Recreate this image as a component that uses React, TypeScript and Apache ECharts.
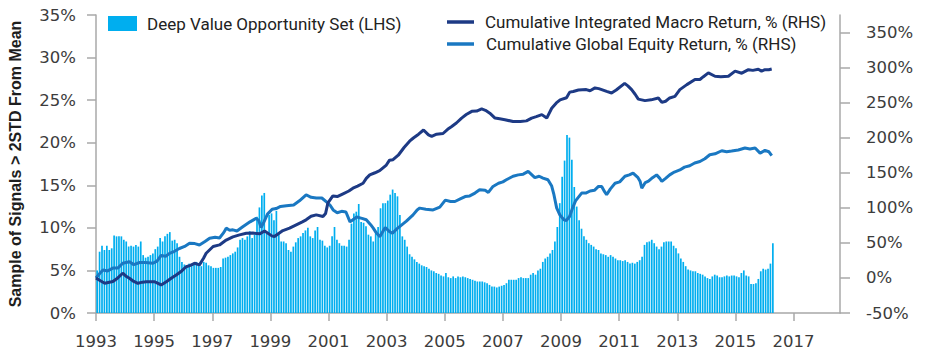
import React, { useEffect, useRef } from "react";
import * as echarts from "echarts";

// ---- Series names ----
const BAR_NAME = "Deep Value Opportunity Set (LHS)";
const MACRO_NAME = "Cumulative Integrated Macro Return, % (RHS)";
const EQUITY_NAME = "Cumulative Global Equity Return, % (RHS)";
const Y_LEFT_TITLE = "Sample of Signals > 2STD From Mean";

// ---- Monthly bars (%), Jan 1993 .. Apr 2016 ----
const FIRST_YEAR = 1993;
const opportunitySet: number[] = [
  // 1993
  5.0, 7.2, 7.9, 7.4, 7.9, 7.4, 7.6, 9.1, 9.0, 9.0, 9.0, 8.6,
  // 1994
  8.4, 7.8, 7.9, 7.8, 8.0, 7.8, 8.4, 6.8, 6.5, 6.6, 6.8, 7.0,
  // 1995
  7.5, 7.8, 8.8, 8.4, 9.0, 9.3, 9.5, 8.5, 8.6, 8.2, 6.6, 6.0,
  // 1996
  5.7, 5.5, 5.8, 5.5, 5.9, 6.0, 5.8, 5.5, 6.0, 5.9, 5.6, 5.5,
  // 1997
  5.3, 5.3, 5.3, 5.4, 6.4, 6.5, 6.6, 6.8, 7.0, 7.2, 7.7, 8.6,
  // 1998
  8.8, 8.6, 9.0, 9.6, 8.8, 9.2, 11.3, 12.4, 13.8, 14.1, 9.3, 11.5,
  // 1999
  11.7, 10.9, 12.0, 9.5, 8.4, 8.4, 8.2, 7.4, 7.2, 7.8, 8.3, 8.8,
  // 2000
  9.0, 9.4, 9.7, 10.0, 9.0, 8.8, 9.7, 10.1, 8.6, 8.5, 7.9, 7.7,
  // 2001
  7.9, 9.0, 10.1, 8.6, 8.2, 7.9, 7.9, 7.8, 8.6, 10.5, 11.7, 11.9,
  // 2002
  12.8, 10.7, 10.6, 10.2, 9.2, 9.0, 8.4, 9.3, 10.1, 12.3, 12.9, 12.9,
  // 2003
  13.2, 13.9, 14.5, 14.1, 13.7, 11.5, 9.0, 8.6, 7.8, 6.9, 6.6, 6.3,
  // 2004
  6.0, 5.8, 5.6, 5.5, 5.4, 5.2, 5.0, 4.9, 4.7, 4.6, 4.4, 4.3,
  // 2005
  4.7, 4.2, 4.1, 4.3, 4.1, 4.3, 4.2, 4.3, 4.2, 4.1, 4.0, 3.9,
  // 2006
  3.8, 3.7, 3.7, 3.7, 3.6, 3.5, 3.3, 3.1, 3.1, 3.0, 3.1, 3.2,
  // 2007
  3.3, 3.5, 3.9, 3.9, 3.9, 3.9, 4.1, 4.2, 4.1, 4.1, 4.1, 4.5,
  // 2008
  4.7, 4.5, 5.0, 5.2, 6.0, 6.4, 6.6, 7.0, 7.4, 8.4, 10.1, 12.9,
  // 2009
  16.0, 17.9, 20.9, 20.6, 18.0, 14.8, 12.5, 10.9, 9.9, 9.0, 8.6, 8.2,
  // 2010
  8.0, 7.8, 7.5, 7.4, 7.0, 6.9, 6.8, 6.6, 6.8, 6.6, 6.4, 6.2,
  // 2011
  6.2, 6.1, 6.2, 6.0, 5.8, 5.9, 5.8, 6.0, 6.2, 6.6, 8.0, 8.3,
  // 2012
  8.4, 8.6, 8.2, 7.8, 7.5, 7.8, 8.3, 8.4, 8.4, 8.4, 7.9, 7.6,
  // 2013
  7.0, 6.4, 6.0, 5.5, 5.1, 5.0, 4.9, 4.9, 4.7, 4.6, 4.5, 4.3,
  // 2014
  4.1, 4.0, 4.3, 4.5, 4.4, 4.2, 4.2, 4.3, 4.4, 4.3, 4.4, 4.4,
  // 2015
  4.3, 4.2, 4.7, 5.0, 4.4, 4.3, 3.4, 3.4, 3.5, 4.0, 4.9, 5.2,
  // 2016
  5.1, 5.2, 5.8, 8.2,
];

// ---- Cumulative Integrated Macro Return (%), [year, value] ----
const macroReturn: [number, number][] = [
  [1993.0, 0], [1993.15, -4], [1993.3, -7.6], [1993.58, -5], [1993.75, 0], [1993.92, 6.7],
  [1994.05, 2], [1994.15, -0.4], [1994.3, -5], [1994.44, -7.6], [1994.6, -6], [1994.73, -5.3],
  [1995.0, -5.3], [1995.1, -7], [1995.24, -10], [1995.42, -5.3], [1995.6, 0], [1995.76, 4.3], [1995.95, 10],
  [1996.1, 16], [1996.25, 18], [1996.39, 20.9], [1996.56, 18.6], [1996.7, 28], [1996.79, 35.2],
  [1997.03, 44.8], [1997.25, 47.1], [1997.48, 54], [1997.71, 58.6], [1997.94, 61.4],
  [1998.17, 63.8], [1998.4, 64], [1998.63, 62.9], [1998.8, 67],
  [1999.05, 60], [1999.14, 59], [1999.43, 67.6], [1999.66, 71], [1999.89, 75.7],
  [2000.1, 80], [2000.23, 82.9], [2000.4, 88], [2000.58, 90], [2000.81, 87.6], [2000.9, 92], [2000.98, 107],
  [2001.15, 117], [2001.3, 116], [2001.5, 120], [2001.7, 124], [2001.84, 128],
  [2002.0, 131], [2002.19, 135], [2002.3, 142], [2002.42, 147], [2002.6, 150], [2002.76, 153], [2002.99, 161],
  [2003.1, 168], [2003.22, 168.6], [2003.4, 175], [2003.6, 186], [2003.79, 195], [2003.92, 199.6],
  [2004.1, 205], [2004.27, 211], [2004.44, 204], [2004.55, 202], [2004.72, 205], [2004.94, 206],
  [2005.1, 212], [2005.24, 216], [2005.4, 221], [2005.58, 228], [2005.74, 233], [2005.93, 237.6],
  [2006.1, 238], [2006.27, 241], [2006.4, 239], [2006.55, 235], [2006.73, 228], [2006.89, 227],
  [2007.07, 225.7], [2007.35, 223], [2007.6, 223], [2007.81, 224], [2007.99, 228],
  [2008.15, 230], [2008.34, 232.9], [2008.51, 228], [2008.68, 242], [2008.84, 249.6], [2008.97, 254],
  [2009.19, 257], [2009.3, 265], [2009.42, 266], [2009.6, 268], [2009.87, 268.6],
  [2010.0, 267], [2010.17, 271], [2010.3, 270], [2010.4, 268.6], [2010.57, 266], [2010.74, 263.8], [2010.9, 268],
  [2011.19, 277.5], [2011.3, 274], [2011.43, 268.6], [2011.55, 262], [2011.66, 255], [2011.89, 252.9],
  [2012.1, 254], [2012.35, 256.7], [2012.47, 250.4], [2012.6, 252], [2012.74, 256.7], [2012.92, 259],
  [2013.09, 268.6], [2013.33, 275.7], [2013.61, 282.9], [2013.78, 283], [2013.9, 287],
  [2014.07, 292.4], [2014.3, 287.6], [2014.5, 287], [2014.76, 287.6], [2014.99, 295],
  [2015.22, 292], [2015.45, 297], [2015.6, 296], [2015.79, 297.6], [2015.9, 295],
  [2016.02, 297], [2016.15, 297], [2016.25, 298],
];

// ---- Cumulative Global Equity Return (%), [year, value] ----
const equityReturn: [number, number][] = [
  [1993.0, 0], [1993.12, 6], [1993.24, 11.4], [1993.4, 10], [1993.58, 14], [1993.75, 14], [1993.92, 21],
  [1994.15, 23], [1994.3, 19], [1994.5, 22], [1994.7, 22], [1994.96, 21],
  [1995.1, 24], [1995.24, 32], [1995.4, 31], [1995.53, 35], [1995.7, 38], [1995.87, 42],
  [1996.05, 45], [1996.22, 49.6], [1996.4, 49], [1996.56, 47], [1996.75, 52], [1996.91, 56.7],
  [1997.1, 58], [1997.25, 57], [1997.4, 65], [1997.48, 71], [1997.6, 68], [1997.71, 68.6], [1997.85, 67],
  [1998.05, 73], [1998.3, 80], [1998.51, 85], [1998.6, 82], [1998.68, 72], [1998.78, 80], [1998.9, 91],
  [1999.06, 98], [1999.2, 99], [1999.35, 102], [1999.55, 103], [1999.8, 104],
  [2000.0, 110], [2000.23, 118.6], [2000.4, 115], [2000.58, 114], [2000.77, 114], [2000.94, 108],
  [2001.05, 104], [2001.16, 97], [2001.3, 93], [2001.45, 95], [2001.6, 94], [2001.74, 80], [2001.84, 83], [2001.97, 87],
  [2002.15, 85], [2002.3, 83], [2002.45, 76], [2002.54, 71], [2002.65, 64], [2002.77, 59], [2002.95, 72],
  [2003.1, 66], [2003.2, 63.8], [2003.35, 70], [2003.5, 75], [2003.68, 81], [2003.91, 90],
  [2004.05, 97], [2004.14, 99.6], [2004.35, 98], [2004.6, 97], [2004.83, 101],
  [2005.02, 111], [2005.2, 109], [2005.35, 109], [2005.55, 113], [2005.7, 116], [2005.86, 117],
  [2006.04, 121], [2006.2, 125.7], [2006.39, 125], [2006.5, 122], [2006.66, 130.5], [2006.85, 135],
  [2007.0, 137], [2007.12, 140], [2007.35, 145], [2007.53, 147], [2007.7, 148], [2007.87, 151.9],
  [2008.1, 143], [2008.25, 145], [2008.38, 142.4], [2008.55, 140], [2008.68, 131], [2008.75, 120], [2008.85, 100], [2008.96, 90],
  [2009.1, 83], [2009.19, 82], [2009.3, 88], [2009.4, 100], [2009.5, 110], [2009.71, 121], [2009.85, 121],
  [2010.0, 124], [2010.15, 125], [2010.29, 130.5], [2010.4, 130.5], [2010.5, 123], [2010.57, 118.6], [2010.7, 127], [2010.86, 135],
  [2011.02, 137], [2011.2, 145], [2011.35, 147], [2011.48, 149.6], [2011.65, 143], [2011.72, 138], [2011.78, 128], [2011.9, 136],
  [2012.01, 138], [2012.15, 143], [2012.29, 147], [2012.4, 142], [2012.47, 137.6], [2012.6, 142], [2012.74, 147], [2012.9, 151],
  [2013.09, 154], [2013.25, 158], [2013.43, 160], [2013.6, 164], [2013.78, 166], [2013.95, 170],
  [2014.12, 175.7], [2014.3, 177], [2014.53, 181.4], [2014.7, 180], [2014.87, 181],
  [2015.1, 182.5], [2015.33, 185.3], [2015.5, 184], [2015.68, 185.3], [2015.85, 178],
  [2016.02, 182], [2016.15, 180], [2016.25, 174.3],
];

// ---- Axis ticks ----
const xTickYears = [1993, 1995, 1997, 1999, 2001, 2003, 2005, 2007, 2009, 2011, 2013, 2015, 2017];
const rightTickValues = [-50, 0, 50, 100, 150, 200, 250, 300, 350];

// ---- Styles ----
const BAR_COLOR = "#00aeef";
const MACRO_COLOR = "#1d3a85";
const EQUITY_COLOR = "#1a78c2";
const AXIS_COLOR = "#a8a8a8";
const LABEL_COLOR = "#3c3c3c";
const TICK_FONT = "DejaVu Sans";

export default function App() {
  const ref = useRef<HTMLDivElement>(null);

  useEffect(() => {
    document.body.style.margin = "0";
    if (!ref.current) return;
    const chart = echarts.init(ref.current, undefined, { renderer: "svg" });

    const barData = opportunitySet.map((v, i) => [FIRST_YEAR + i / 12 + 0.04, v]);

    const labelStyle = { color: LABEL_COLOR, fontFamily: TICK_FONT, fontSize: 16.5 };
    const axisLine = { show: true, lineStyle: { color: AXIS_COLOR, width: 1.5 } };

    chart.setOption({
      animation: false,
      grid: { left: 96, right: 86, top: 15, bottom: 47, containLabel: false, outerBoundsMode: "none" },
      xAxis: {
        type: "value",
        min: 1993,
        max: 2018.6,
        splitLine: { show: false },
        axisLine,
        axisTick: { show: true, length: 8, lineStyle: { color: AXIS_COLOR, width: 1.5 }, customValues: xTickYears },
        axisLabel: { ...labelStyle, margin: 20, customValues: xTickYears, formatter: (v: number) => String(v) },
      },
      yAxis: [
        {
          type: "value",
          min: 0,
          max: 35,
          interval: 5,
          splitLine: { show: false },
          axisLine,
          axisTick: { show: true, length: 9, lineStyle: { color: AXIS_COLOR, width: 1.5 } },
          axisLabel: { ...labelStyle, margin: 20, formatter: (v: number) => `${v}%` },
          name: Y_LEFT_TITLE,
          nameLocation: "middle",
          nameGap: 73,
          nameTextStyle: { fontFamily: "Liberation Sans", fontWeight: "bold", fontSize: 16, color: "#1e1e1e" },
        },
        {
          type: "value",
          min: -50,
          max: 375,
          position: "right",
          splitLine: { show: false },
          axisLine,
          axisTick: { show: true, length: 10, lineStyle: { color: AXIS_COLOR, width: 1.5 }, customValues: rightTickValues },
          axisLabel: { ...labelStyle, margin: 26, customValues: rightTickValues, formatter: (v: number) => `${v}%` },
        },
      ],
      series: [
        {
          name: BAR_NAME,
          type: "bar",
          xAxisIndex: 0,
          yAxisIndex: 0,
          data: barData,
          barWidth: 1.7,
          itemStyle: { color: BAR_COLOR },
          z: 2,
        },
        {
          name: EQUITY_NAME,
          type: "line",
          yAxisIndex: 1,
          data: equityReturn,
          showSymbol: false,
          symbol: "none",
          lineStyle: { color: EQUITY_COLOR, width: 3 },
          z: 3,
        },
        {
          name: MACRO_NAME,
          type: "line",
          yAxisIndex: 1,
          data: macroReturn,
          showSymbol: false,
          symbol: "none",
          lineStyle: { color: MACRO_COLOR, width: 3 },
          z: 4,
        },
      ],
      graphic: [
        { type: "rect", shape: { x: 108, y: 16, width: 29, height: 15 }, style: { fill: BAR_COLOR } },
        {
          type: "text",
          x: 147,
          y: 23.5,
          style: { text: BAR_NAME, fontFamily: "Roboto", fontSize: 17, fill: "#222", verticalAlign: "middle", align: "left" },
        },
        { type: "line", shape: { x1: 447, y1: 22, x2: 474, y2: 22 }, style: { stroke: MACRO_COLOR, lineWidth: 3.5 } },
        {
          type: "text",
          x: 485,
          y: 22,
          style: { text: MACRO_NAME, fontFamily: "Roboto", fontSize: 17, fill: "#222", verticalAlign: "middle", align: "left" },
        },
        { type: "line", shape: { x1: 447, y1: 44, x2: 474, y2: 44 }, style: { stroke: EQUITY_COLOR, lineWidth: 3.5 } },
        {
          type: "text",
          x: 486,
          y: 44,
          style: { text: EQUITY_NAME, fontFamily: "Roboto", fontSize: 17, fill: "#222", verticalAlign: "middle", align: "left" },
        },
      ],
    });

    return () => chart.dispose();
  }, []);

  return <div ref={ref} style={{ width: 926, height: 360 }} />;
}
